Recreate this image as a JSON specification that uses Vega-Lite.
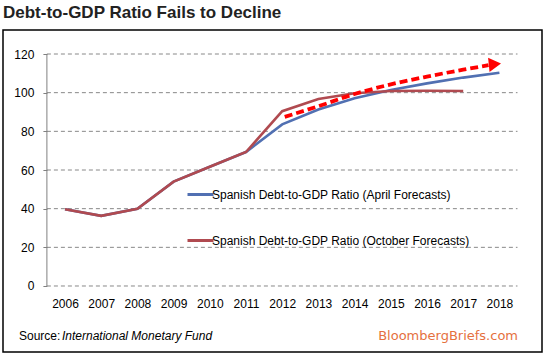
{
  "$schema": "https://vega.github.io/schema/vega-lite/v6.json",
  "width": 539,
  "height": 322,
  "autosize": {"type": "none"},
  "padding": {"left": 3, "top": 30, "right": 3, "bottom": 3},
  "background": "#ffffff",
  "title": {
    "text": "Debt-to-GDP Ratio Fails to Decline",
    "anchor": "start",
    "frame": "group",
    "font": "Liberation Sans",
    "fontSize": 17,
    "fontWeight": "bold",
    "color": "#222222",
    "baseline": "alphabetic",
    "offset": -5
  },
  "config": {
    "view": {"stroke": "#000000", "strokeWidth": 1.5},
    "font": "Liberation Sans"
  },
  "layer": [
    {
      "data": {"values": [{"value": 0}, {"value": 20}, {"value": 40}, {"value": 60}, {"value": 80}, {"value": 100}, {"value": 120}]},
      "mark": {"type": "rule", "stroke": "#888888", "strokeWidth": 1, "strokeDash": [4, 3]},
      "encoding": {
        "y": {"field": "value", "type": "quantitative", "scale": {"domain": [-34.138, 132.414], "nice": false, "zero": false}, "axis": {"title": null}},
        "x": {"datum": 2005.5, "type": "quantitative", "scale": {"domain": [2004.2873, 2019.1768], "nice": false, "zero": false}, "axis": {"title": null}},
        "x2": {"datum": 2018.5}
      }
    },
    {
      "data": {"values": [{"value": 0}]},
      "mark": {"type": "rule", "stroke": "#808080", "strokeWidth": 1},
      "encoding": {
        "x": {"datum": 2005.5, "type": "quantitative", "scale": {"domain": [2004.2873, 2019.1768], "nice": false, "zero": false}, "axis": {"title": null}},
        "y": {"datum": 0, "type": "quantitative", "scale": {"domain": [-34.138, 132.414], "nice": false, "zero": false}, "axis": {"title": null}},
        "y2": {"datum": 120}
      }
    },
    {
      "data": {
        "values": [
          {"series": "Spanish Debt-to-GDP Ratio (April Forecasts)", "year": 2006, "value": 39.7},
          {"series": "Spanish Debt-to-GDP Ratio (April Forecasts)", "year": 2007, "value": 36.3},
          {"series": "Spanish Debt-to-GDP Ratio (April Forecasts)", "year": 2008, "value": 40.0},
          {"series": "Spanish Debt-to-GDP Ratio (April Forecasts)", "year": 2009, "value": 54.0},
          {"series": "Spanish Debt-to-GDP Ratio (April Forecasts)", "year": 2010, "value": 61.7},
          {"series": "Spanish Debt-to-GDP Ratio (April Forecasts)", "year": 2011, "value": 69.3},
          {"series": "Spanish Debt-to-GDP Ratio (April Forecasts)", "year": 2012, "value": 83.6},
          {"series": "Spanish Debt-to-GDP Ratio (April Forecasts)", "year": 2013, "value": 91.3},
          {"series": "Spanish Debt-to-GDP Ratio (April Forecasts)", "year": 2014, "value": 97.1},
          {"series": "Spanish Debt-to-GDP Ratio (April Forecasts)", "year": 2015, "value": 101.4},
          {"series": "Spanish Debt-to-GDP Ratio (April Forecasts)", "year": 2016, "value": 104.8},
          {"series": "Spanish Debt-to-GDP Ratio (April Forecasts)", "year": 2017, "value": 107.8},
          {"series": "Spanish Debt-to-GDP Ratio (April Forecasts)", "year": 2018, "value": 110.3},
          {"series": "Spanish Debt-to-GDP Ratio (October Forecasts)", "year": 2006, "value": 39.7},
          {"series": "Spanish Debt-to-GDP Ratio (October Forecasts)", "year": 2007, "value": 36.3},
          {"series": "Spanish Debt-to-GDP Ratio (October Forecasts)", "year": 2008, "value": 40.0},
          {"series": "Spanish Debt-to-GDP Ratio (October Forecasts)", "year": 2009, "value": 54.0},
          {"series": "Spanish Debt-to-GDP Ratio (October Forecasts)", "year": 2010, "value": 61.7},
          {"series": "Spanish Debt-to-GDP Ratio (October Forecasts)", "year": 2011, "value": 69.3},
          {"series": "Spanish Debt-to-GDP Ratio (October Forecasts)", "year": 2012, "value": 90.4},
          {"series": "Spanish Debt-to-GDP Ratio (October Forecasts)", "year": 2013, "value": 96.7},
          {"series": "Spanish Debt-to-GDP Ratio (October Forecasts)", "year": 2014, "value": 99.7},
          {"series": "Spanish Debt-to-GDP Ratio (October Forecasts)", "year": 2015, "value": 100.9},
          {"series": "Spanish Debt-to-GDP Ratio (October Forecasts)", "year": 2016, "value": 101.0},
          {"series": "Spanish Debt-to-GDP Ratio (October Forecasts)", "year": 2017, "value": 100.9}
        ]
      },
      "mark": {"type": "line", "strokeWidth": 2.6},
      "encoding": {
        "x": {
          "field": "year",
          "type": "quantitative",
          "scale": {"domain": [2004.2873, 2019.1768], "nice": false, "zero": false},
          "axis": {
            "values": [2006, 2007, 2008, 2009, 2010, 2011, 2012, 2013, 2014, 2015, 2016, 2017, 2018],
            "format": "d",
            "title": null,
            "offset": -66,
            "domain": false,
            "ticks": false,
            "grid": false,
            "labelFont": "Liberation Sans",
            "labelFontSize": 12,
            "labelColor": "#000000",
            "labelPadding": 12,
            "labelFlush": false,
            "labelOverlap": false
          }
        },
        "y": {
          "field": "value",
          "type": "quantitative",
          "scale": {"domain": [-34.138, 132.414], "nice": false, "zero": false},
          "axis": {
            "values": [0, 20, 40, 60, 80, 100, 120],
            "title": null,
            "offset": -43.9,
            "domain": false,
            "ticks": true,
            "tickSize": 4,
            "tickColor": "#808080",
            "grid": false,
            "labelFont": "Liberation Sans",
            "labelFontSize": 12,
            "labelColor": "#000000",
            "labelPadding": 9
          }
        },
        "color": {
          "field": "series",
          "type": "nominal",
          "scale": {
            "domain": ["Spanish Debt-to-GDP Ratio (April Forecasts)", "Spanish Debt-to-GDP Ratio (October Forecasts)"],
            "range": ["#5170B2", "#B04A50"]
          },
          "legend": {
            "orient": "none",
            "legendX": 183,
            "legendY": 150,
            "direction": "vertical",
            "title": null,
            "symbolType": "stroke",
            "symbolSize": 676,
            "symbolStrokeWidth": 3,
            "labelFont": "Liberation Sans",
            "labelFontSize": 12,
            "labelColor": "#000000",
            "labelOffset": -3,
            "labelLimit": 400,
            "rowPadding": 25,
            "padding": 0
          }
        }
      }
    },
    {
      "data": {
        "values": [
          {"year": 2012.07, "value": 87.5},
          {"year": 2013, "value": 93.0},
          {"year": 2014, "value": 99.3},
          {"year": 2015, "value": 104.3},
          {"year": 2016, "value": 108.3},
          {"year": 2017, "value": 111.9},
          {"year": 2017.7, "value": 114.2}
        ]
      },
      "mark": {"type": "line", "color": "#FF0000", "strokeWidth": 3.8, "strokeDash": [8, 4], "interpolate": "monotone"},
      "encoding": {
        "x": {"field": "year", "type": "quantitative", "scale": {"domain": [2004.2873, 2019.1768], "nice": false, "zero": false}, "axis": {"title": null}},
        "y": {"field": "value", "type": "quantitative", "scale": {"domain": [-34.138, 132.414], "nice": false, "zero": false}, "axis": {"title": null}}
      }
    },
    {
      "data": {"values": [{"year": 2017.876, "value": 114.7}]},
      "mark": {"type": "point", "shape": "triangle-right", "filled": true, "color": "#FF0000", "size": 200, "opacity": 1, "angle": -6},
      "encoding": {
        "x": {"field": "year", "type": "quantitative", "scale": {"domain": [2004.2873, 2019.1768], "nice": false, "zero": false}, "axis": {"title": null}},
        "y": {"field": "value", "type": "quantitative", "scale": {"domain": [-34.138, 132.414], "nice": false, "zero": false}, "axis": {"title": null}}
      }
    },
    {
      "data": {"values": [{"label": "Source:"}]},
      "mark": {"type": "text", "align": "left", "baseline": "middle", "font": "Liberation Sans", "fontSize": 12, "color": "#000000"},
      "encoding": {
        "x": {"datum": 2004.729, "type": "quantitative", "scale": {"domain": [2004.2873, 2019.1768], "nice": false, "zero": false}, "axis": {"title": null}},
        "y": {"datum": -25.86, "type": "quantitative", "scale": {"domain": [-34.138, 132.414], "nice": false, "zero": false}, "axis": {"title": null}},
        "text": {"field": "label"}
      }
    },
    {
      "data": {"values": [{"label": "International Monetary Fund"}]},
      "mark": {"type": "text", "align": "left", "baseline": "middle", "font": "Liberation Sans", "fontSize": 12, "fontStyle": "italic", "color": "#000000", "dx": 43},
      "encoding": {
        "x": {"datum": 2004.729, "type": "quantitative", "scale": {"domain": [2004.2873, 2019.1768], "nice": false, "zero": false}, "axis": {"title": null}},
        "y": {"datum": -25.86, "type": "quantitative", "scale": {"domain": [-34.138, 132.414], "nice": false, "zero": false}, "axis": {"title": null}},
        "text": {"field": "label"}
      }
    },
    {
      "data": {"values": [{"label": "BloombergBriefs.com"}]},
      "mark": {"type": "text", "align": "right", "baseline": "middle", "font": "DejaVu Sans", "fontSize": 13, "color": "#E5703E"},
      "encoding": {
        "x": {"datum": 2018.514, "type": "quantitative", "scale": {"domain": [2004.2873, 2019.1768], "nice": false, "zero": false}, "axis": {"title": null}},
        "y": {"datum": -25.86, "type": "quantitative", "scale": {"domain": [-34.138, 132.414], "nice": false, "zero": false}, "axis": {"title": null}},
        "text": {"field": "label"}
      }
    }
  ]
}
